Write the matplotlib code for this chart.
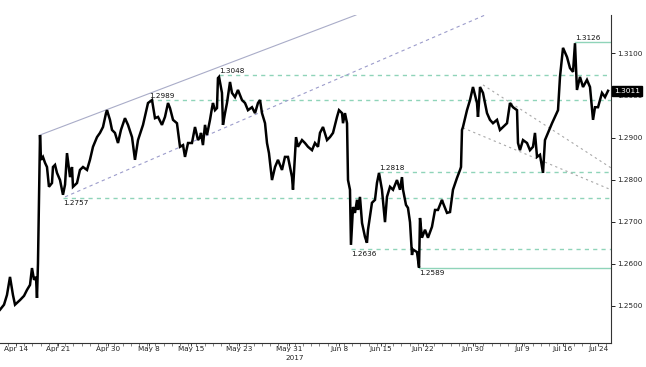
import matplotlib
matplotlib.use("Agg")
import matplotlib.pyplot as plt
from matplotlib import font_manager

# ---- data: GBP/USD 2017, x = trading days since Apr 14 ----
days = [-1.95, -1.46, -1.10, -0.73, -0.37, -0.12, 0.49, 0.98, 1.34, 1.71, 1.95, 2.20, 2.44, 2.56, 2.68, 2.80, 2.93, 3.05,
        3.29, 3.54, 3.78, 4.02, 4.39, 4.51, 4.76, 5.00, 5.37, 5.73, 5.98, 6.22, 6.59, 6.83, 6.95, 7.44, 7.80, 8.17, 8.66,
        9.02, 9.39, 9.88, 10.24, 10.61, 10.98, 11.10, 11.46, 11.71, 12.07, 12.44, 12.80, 13.29, 13.66, 14.15, 14.51,
        14.88, 15.49, 15.85, 16.10, 16.59, 16.95, 17.32, 17.80, 18.17, 18.54, 18.78, 19.15, 19.63, 20.00, 20.37, 20.61,
        20.98, 21.46, 21.83, 22.20, 22.44, 22.56, 22.80, 23.05, 23.29, 23.66, 23.90, 24.02, 24.27, 24.51, 24.63, 24.76,
        25.12, 25.24, 25.49, 25.73, 26.10, 26.34, 26.71, 27.07, 27.56, 27.93, 28.29, 28.78, 29.15, 29.51, 29.76, 30.00,
        30.37, 30.61, 30.85, 31.22, 31.59, 31.95, 32.44, 32.80, 33.17, 33.66, 33.78, 34.15, 34.39, 34.88, 35.24, 35.61,
        36.10, 36.46, 36.83, 37.07, 37.44, 37.93, 38.29, 38.66, 39.15, 39.39, 39.76, 39.88, 40.12, 40.37, 40.49, 40.73,
        40.85, 41.10, 41.34, 41.59, 41.71, 41.95, 42.20, 42.56, 42.80, 42.93, 43.41, 43.78, 44.02, 44.27, 44.63, 45.00,
        45.24, 45.61, 45.98, 46.46, 46.83, 47.07, 47.20, 47.56, 47.80, 48.05, 48.29, 48.41, 48.90, 49.15, 49.27, 49.51,
        49.88, 50.24, 50.73, 51.10, 51.46, 51.95, 52.07, 52.56, 52.93, 53.29, 53.78, 54.15, 54.27, 54.39, 54.51, 55.00,
        55.37, 55.73, 55.98, 56.22, 56.34, 56.59, 56.95, 57.44, 57.80, 58.17, 58.66, 59.02, 59.39, 59.88, 60.24, 60.61,
        61.10, 61.22, 61.46, 61.83, 62.32, 62.68, 63.05, 63.29, 63.54, 63.90, 64.27, 64.51, 64.88, 65.37, 65.73, 66.10,
        66.34, 66.71, 67.20, 67.56, 67.93, 68.17, 68.41, 68.78, 69.15, 69.63, 70.00, 70.37, 70.61, 70.98, 71.46, 71.83,
        72.20]
prices = [1.2491, 1.2503, 1.2526, 1.2569, 1.2526, 1.2503, 1.2514, 1.2524, 1.2538, 1.2550, 1.2590, 1.2562, 1.2569,
          1.2519, 1.2600, 1.2752, 1.2906, 1.2847,
          1.2854, 1.2840, 1.2830, 1.2783, 1.2792, 1.2830, 1.2835, 1.2816, 1.2799, 1.2764, 1.2788, 1.2863, 1.2806,
          1.2830, 1.2783, 1.2792, 1.2823, 1.2830, 1.2823, 1.2847, 1.2878, 1.2901, 1.2911, 1.2925, 1.2958, 1.2965,
          1.2942, 1.2918, 1.2911, 1.2887, 1.2918, 1.2946, 1.2930, 1.2901, 1.2847, 1.2894, 1.2930, 1.2961, 1.2982,
          1.2989, 1.2946, 1.2949, 1.2930, 1.2949, 1.2982, 1.2970, 1.2942, 1.2934, 1.2878, 1.2882, 1.2854, 1.2887,
          1.2887, 1.2925, 1.2894, 1.2901, 1.2911, 1.2882, 1.2930, 1.2906, 1.2942, 1.2970, 1.2982, 1.2965, 1.2970,
          1.3041, 1.3044,
          1.3006, 1.2930, 1.2958, 1.2982, 1.3032, 1.3006, 1.2996, 1.3013, 1.2989, 1.2982, 1.2965, 1.2972, 1.2958,
          1.2982, 1.2989, 1.2958, 1.2934, 1.2887, 1.2863, 1.2799, 1.2830, 1.2847, 1.2823, 1.2854, 1.2854, 1.2806,
          1.2776, 1.2901, 1.2878, 1.2894, 1.2887, 1.2878, 1.2870, 1.2887, 1.2878, 1.2911, 1.2925, 1.2894, 1.2901,
          1.2911, 1.2949, 1.2965, 1.2958, 1.2934, 1.2958, 1.2934, 1.2799, 1.2776, 1.2645, 1.2735, 1.2721, 1.2752,
          1.2728, 1.2759, 1.2697, 1.2664, 1.2650, 1.2681, 1.2745, 1.2752, 1.2792, 1.2816, 1.2776, 1.2699, 1.2759,
          1.2783, 1.2776, 1.2799, 1.2776, 1.2806, 1.2776, 1.2740, 1.2733, 1.2699, 1.2621, 1.2634, 1.2628, 1.2591,
          1.2709, 1.2662, 1.2681, 1.2662, 1.2688, 1.2728, 1.2728, 1.2752, 1.2745, 1.2721, 1.2723, 1.2776, 1.2804,
          1.2823, 1.2830, 1.2918, 1.2925, 1.2965, 1.2989, 1.3020, 1.3001, 1.2982, 1.2949, 1.3020, 1.3006, 1.2958,
          1.2942, 1.2934, 1.2942, 1.2918, 1.2925, 1.2934, 1.2982, 1.2972, 1.2965, 1.2887, 1.2870, 1.2894, 1.2887,
          1.2870, 1.2878, 1.2911, 1.2854, 1.2859, 1.2816, 1.2894, 1.2911, 1.2934, 1.2949, 1.2965, 1.3044, 1.3113,
          1.3091, 1.3065, 1.3056, 1.3124, 1.3013, 1.3044, 1.3020, 1.3037, 1.3020, 1.2942, 1.2972, 1.2972, 1.3006,
          1.2996, 1.3011]
last_price = 1.3011

tick_days = [0, 5.12, 11.22, 16.22, 21.34, 27.2, 33.3, 39.4, 44.5, 49.6, 55.7, 61.7, 66.7, 71.0]
tick_labels = ["Apr 14", "Apr 21", "Apr 30", "May 8", "May 15", "May 23", "May 31", "Jun 8",
               "Jun 15", "Jun 22", "Jun 30", "Jul 9", "Jul 16", "Jul 24"]
y_ticks = [1.25, 1.26, 1.27, 1.28, 1.29, 1.30, 1.31]

# marked levels: (price, start day, solid?)
levels = [(1.3126, 68.17, True), (1.3048, 24.76, False), (1.2989, 16.2, False), (1.2818, 44.27, False),
          (1.2757, 5.73, False), (1.2636, 40.85, False), (1.2589, 49.15, True)]
# label placement: above (True) or below (False) the level line
label_above = [True, True, True, True, False, False, False]

# trend lines: (day0, price0, day1, price1, style, colour)
trends = [(2.93, 1.2906, 41.46, 1.3191, "-", "#a9acc8"),
          (5.98, 1.2759, 57.8, 1.3196, (0, (3, 3)), "#9c9ccb"),
          (56.95, 1.3025, 72.56, 1.2828, (0, (2, 3)), "#a8a8a8"),
          (54.51, 1.2923, 72.56, 1.2776, (0, (2, 3)), "#a8a8a8")]

names = {f.name for f in font_manager.fontManager.ttflist}
fam = ["Liberation Sans Narrow", "DejaVu Sans"] if "Liberation Sans Narrow" in names else ["DejaVu Sans"]
plt.rcParams["font.family"] = fam

fig = plt.figure(figsize=(6.46, 3.67), dpi=100)
ax = fig.add_axes([0.0, 0.0654, 0.9458, 0.8937])
xmin, xmax = -1.95, 72.56
ax.set_xlim(xmin, xmax)
ax.set_ylim(1.2412, 1.3191)

green = "#8fd4b9"
for (p, d0, solid), above in zip(levels, label_above):
    ax.plot([d0, xmax], [p, p], color=green, lw=1.0,
            ls="-" if solid else (0, (3, 3)), zorder=2)
    ax.text(d0 + 0.05, p + (0.00035 if above else -0.00045), f"{p:.4f}", fontsize=5.2,
            va="bottom" if above else "top", ha="left", color="#111111", zorder=5)

for d0, p0, d1, p1, ls, c in trends:
    ax.plot([d0, d1], [p0, p1], color=c, lw=0.8, ls=ls, zorder=2)

ax.plot(days, prices, color="black", lw=1.8, zorder=4, solid_joinstyle="miter")

for s in ["left", "top"]:
    ax.spines[s].set_visible(False)
for s in ["right", "bottom"]:
    ax.spines[s].set_color("#333333")
    ax.spines[s].set_linewidth(0.8)

ax.yaxis.tick_right()
ax.set_yticks(y_ticks)
ax.set_yticklabels([f"{v:.4f}" for v in y_ticks])
ax.tick_params(axis="y", length=3, width=0.7, labelsize=5.2, pad=1.5, colors="#222222")
ax.set_xticks(tick_days)
ax.set_xticklabels(tick_labels)
ax.set_xticks(list(range(-1, 73)), minor=True)
ax.tick_params(axis="x", which="major", length=2, width=0.6, labelsize=5.2, pad=0.3, colors="#222222")
ax.tick_params(axis="x", which="minor", length=2, width=0.5, colors="#555555")

ax.text(34.0, -0.046, "2017", transform=ax.get_xaxis_transform(), ha="center", va="center", fontsize=5.2,
        color="#222222")

ax.annotate(f"{last_price:.4f}", xy=(1.0, last_price), xycoords=("axes fraction", "data"),
            xytext=(2, 0), textcoords="offset points", ha="left", va="center", fontsize=5.4,
            color="white", bbox=dict(boxstyle="square,pad=0.3", fc="black", ec="black"),
            annotation_clip=False, zorder=10)

fig.savefig("out.png", dpi=100)
